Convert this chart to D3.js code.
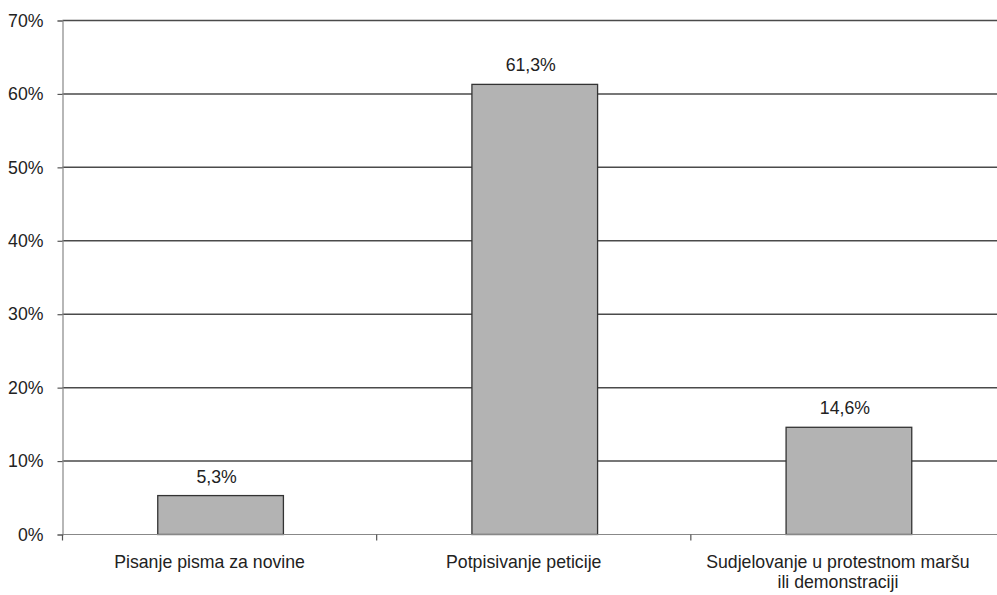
<!DOCTYPE html>
<html lang="hr">

<head>
  <meta charset="utf-8">
  <title>Politička participacija</title>
  <script src="https://cdn.jsdelivr.net/npm/d3@7"></script>
  <style>
    html, body { margin: 0; padding: 0; background: #fff; }
    svg text { font-family: "Liberation Sans", Arial, sans-serif; fill: #222; }
  </style>
</head>

<body>
  <script>
    var categories = [
      ["Pisanje pisma za novine"],
      ["Potpisivanje peticije"],
      ["Sudjelovanje u protestnom maršu", "ili demonstraciji"]
    ];
    var values = [5.3, 61.3, 14.6];
    var valueLabels = ["5,3%", "61,3%", "14,6%"];
    var yTicks = [0, 10, 20, 30, 40, 50, 60, 70];

    var w = 997;
    var h = 595;
    var margin = { top: 20.5, left: 62.5, right: -8, bottom: 60 };
    var fontSize = "17.7px";

    var svg = d3.select("body").append("svg")
      .attr("width", w)
      .attr("height", h);

    var x = d3.scaleBand()
      .domain(d3.range(categories.length))
      .range([margin.left, w - margin.right])
      .padding(0);
    var y = d3.scaleLinear()
      .domain([0, 70])
      .range([h - margin.bottom - 0.5, margin.top]);

    // gridlines
    svg.append("g")
      .selectAll("line")
      .data(yTicks.slice(1))
      .enter()
      .append("line")
      .attr("x1", margin.left)
      .attr("x2", w)
      .attr("y1", function (d) { return y(d); })
      .attr("y2", function (d) { return y(d); })
      .attr("stroke", "#4a4a4a")
      .attr("stroke-width", 1.5);

    // y axis
    var yAxis = svg.append("g")
      .attr("transform", "translate(" + margin.left + ",0)")
      .call(d3.axisLeft(y).tickValues(yTicks).tickSize(5).tickPadding(14)
        .tickFormat(function (d) { return d + "%"; }));
    yAxis.select(".domain").attr("stroke", "#888").attr("stroke-width", 1.2);
    yAxis.selectAll(".tick line").attr("stroke", "#555").attr("stroke-width", 1.2);
    yAxis.selectAll("text")
      .style("font-size", fontSize)
      .attr("fill", "#222");

    // bars
    var barW = x.bandwidth() * 0.4;
    svg.append("g")
      .selectAll("rect")
      .data(values)
      .enter()
      .append("rect")
      .attr("x", function (d, i) { return x(i) + x.bandwidth() / 2 - barW / 2 + 1; })
      .attr("y", function (d) { return y(d); })
      .attr("width", barW)
      .attr("height", function (d) { return y(0) - y(d); })
      .attr("fill", "#b3b3b3")
      .attr("stroke", "#333")
      .attr("stroke-width", 1.3);

    // value labels
    svg.append("g")
      .selectAll("text")
      .data(values)
      .enter()
      .append("text")
      .attr("x", function (d, i) { return x(i) + x.bandwidth() / 2 - 3; })
      .attr("y", function (d) { return y(d) - 13; })
      .attr("text-anchor", "middle")
      .style("font-size", fontSize)
      .text(function (d, i) { return valueLabels[i]; });

    // x axis
    var xAxis = svg.append("g")
      .attr("transform", "translate(0," + y(0) + ")");
    xAxis.append("line")
      .attr("x1", margin.left)
      .attr("x2", w)
      .attr("stroke", "#888")
      .attr("stroke-width", 1.2);
    xAxis.selectAll(".xtick")
      .data(d3.range(categories.length))
      .enter()
      .append("line")
      .attr("x1", function (d) { return x(d); })
      .attr("x2", function (d) { return x(d); })
      .attr("y1", 0)
      .attr("y2", 6)
      .attr("stroke", "#555")
      .attr("stroke-width", 1.2);
    var catText = xAxis.selectAll(".xlabel")
      .data(categories)
      .enter()
      .append("text")
      .attr("text-anchor", "middle")
      .attr("x", function (d, i) { return x(i) + x.bandwidth() / 2 - 10; })
      .attr("y", 33)
      .style("font-size", fontSize);
    catText.selectAll("tspan")
      .data(function (d) { return d; })
      .enter()
      .append("tspan")
      .attr("x", function () { return this.parentNode.getAttribute("x"); })
      .attr("dy", function (d, i) { return i === 0 ? 0 : 20.5; })
      .text(function (d) { return d; });
  </script>
</body>

</html>
